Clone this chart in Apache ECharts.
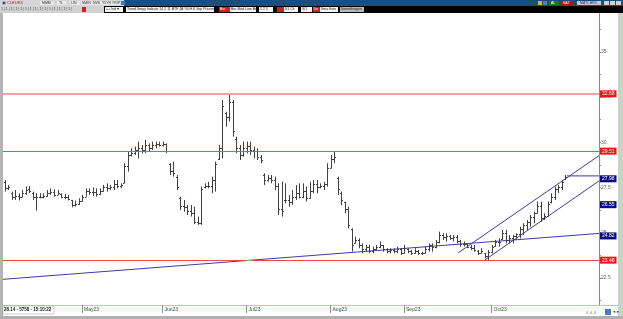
<!DOCTYPE html>
<html><head><meta charset="utf-8">
<script src="https://cdn.jsdelivr.net/npm/echarts@6/dist/echarts.min.js"></script>
<style>html,body{margin:0;padding:0;background:#fff;}#c{width:623px;height:319px;}</style>
</head><body><div id="c"></div>
<script>
// ---- data (daily OHLC bars, index 0..160) ----
const highs = [27.91,27.64,27.27,27.36,27.18,27.36,27.55,27.58,27.27,27.18,27.18,27.18,27.36,27.45,27.40,27.36,27.18,27.14,27.09,26.81,
26.77,26.90,27.09,27.45,27.45,27.51,27.45,27.45,27.64,27.73,27.64,27.91,27.91,27.73,28.84,29.48,29.67,29.76,30.04,29.85,
30.13,29.94,30.04,30.04,30.04,30.04,29.94,28.84,28.93,28.19,26.99,26.81,26.53,26.53,26.44,25.89,27.55,27.73,27.82,28.10,
28.93,29.85,32.34,31.69,32.62,32.34,30.31,29.85,30.04,30.04,30.04,29.76,29.67,29.30,28.28,28.19,28.19,28.10,27.73,27.82,
27.73,27.09,27.36,27.64,27.73,27.73,27.55,27.82,27.91,27.91,27.73,27.82,28.84,29.30,29.48,28.10,27.27,26.72,26.44,25.24,
24.78,24.69,24.41,24.32,24.32,24.23,24.32,24.51,24.32,24.14,24.14,24.14,24.23,24.14,24.32,24.14,24.04,24.14,24.04,23.95,
24.23,24.41,24.41,24.60,25.06,24.97,24.97,24.87,24.87,24.87,24.60,24.51,24.41,24.32,24.32,24.04,24.14,23.86,24.04,24.32,
24.60,24.69,25.15,25.15,24.87,24.87,24.97,25.33,25.52,25.70,25.98,26.16,26.72,26.72,26.07,26.72,27.18,27.55,27.64,27.91,
28.19];
const lows = [27.27,27.36,26.81,26.81,26.78,26.96,27.09,27.18,26.81,26.22,26.90,26.90,26.99,27.09,26.99,27.09,26.90,26.85,26.78,26.40,
26.44,26.53,26.72,26.99,27.09,27.03,26.99,27.09,27.27,27.27,27.36,27.36,27.45,27.45,27.73,28.38,29.21,29.30,29.11,29.39,
29.39,29.48,29.57,29.67,29.76,29.76,29.39,28.19,28.10,27.36,26.26,26.16,25.98,25.89,25.48,25.43,25.43,27.45,27.45,27.18,
27.27,29.02,29.11,30.86,31.14,30.31,29.39,29.02,29.21,29.39,29.30,29.11,29.02,28.84,27.64,27.82,27.73,27.36,25.98,25.89,
26.62,26.44,26.53,26.81,26.90,26.90,26.72,26.90,27.18,27.18,27.45,27.36,27.55,28.56,28.84,27.09,26.53,26.07,25.24,23.95,
24.41,24.14,23.86,23.95,23.86,23.86,24.04,24.14,23.95,23.86,23.86,23.86,23.86,23.77,23.86,23.86,23.77,23.86,23.77,23.77,
23.86,23.95,23.95,24.14,24.41,24.60,24.51,24.60,24.51,24.41,24.23,24.23,24.14,24.04,23.95,23.77,23.86,23.58,23.49,23.86,
24.23,24.23,24.60,24.41,24.41,24.41,24.60,24.69,24.87,25.15,25.33,25.52,26.07,25.61,25.70,25.89,26.62,26.81,27.18,27.36,
27.91];
const opens = [27.80,27.45,27.20,26.95,27.05,27.00,27.20,27.40,27.20,26.95,27.00,27.00,27.05,27.20,27.25,27.10,27.15,27.00,26.95,26.80,
26.55,26.60,26.75,27.00,27.30,27.25,27.25,27.15,27.30,27.50,27.45,27.50,27.70,27.60,27.75,28.70,29.30,29.40,29.55,29.70,
29.60,29.85,29.70,29.85,29.90,29.85,29.90,28.80,28.40,28.10,26.90,26.50,26.40,26.20,26.10,25.60,25.55,27.50,27.60,27.60,
27.90,29.10,29.70,31.60,31.40,32.20,30.20,29.70,29.30,29.70,29.80,29.60,29.50,29.20,28.20,27.90,28.00,27.90,27.60,26.30,
26.80,26.80,26.70,27.00,27.20,27.00,27.30,26.90,27.30,27.70,27.50,27.60,27.70,28.60,29.10,28.00,27.20,26.70,26.30,25.20,
24.45,24.60,24.30,24.10,24.20,24.00,24.10,24.20,24.30,24.10,24.00,24.05,24.00,24.10,23.90,24.10,24.00,23.90,24.00,23.90,
23.90,24.10,24.30,24.20,24.50,24.85,24.75,24.80,24.70,24.75,24.55,24.35,24.40,24.20,24.15,24.00,23.90,23.85,23.70,23.95,
24.25,24.50,24.65,25.00,24.60,24.70,24.80,24.90,25.20,25.40,25.60,25.85,26.10,26.50,25.80,25.95,26.70,27.00,27.40,27.50,
27.95];
const closes = [27.45,27.50,26.95,27.05,26.95,27.20,27.35,27.30,26.95,26.95,27.00,27.05,27.20,27.25,27.10,27.20,27.00,26.95,26.85,26.55,
26.60,26.75,26.95,27.30,27.25,27.25,27.15,27.30,27.50,27.45,27.50,27.70,27.60,27.65,28.70,29.30,29.40,29.55,29.70,29.60,
29.85,29.70,29.85,29.90,29.85,29.90,29.50,28.40,28.30,27.50,26.50,26.40,26.20,26.10,25.60,25.55,27.40,27.60,27.60,27.90,
28.80,29.70,32.00,31.40,32.20,30.60,29.70,29.30,29.70,29.80,29.60,29.50,29.20,29.00,27.90,28.00,27.90,27.60,26.30,26.20,
26.80,26.70,27.00,27.20,27.00,27.30,26.90,27.30,27.70,27.50,27.60,27.70,28.60,29.10,29.20,27.40,26.80,26.30,25.40,24.30,
24.60,24.30,24.10,24.20,24.00,24.10,24.20,24.30,24.10,24.00,24.05,24.00,24.10,23.90,24.15,24.00,23.90,24.00,23.90,23.85,
24.10,24.30,24.20,24.50,24.85,24.75,24.80,24.70,24.75,24.55,24.35,24.40,24.20,24.15,24.05,23.90,24.00,23.70,23.95,24.20,
24.50,24.50,25.00,24.60,24.70,24.80,24.90,25.20,25.40,25.60,25.85,26.10,26.50,25.80,25.90,26.60,27.00,27.40,27.50,27.80,
28.10];

const monthTickIdx = [22, 45, 69, 93, 114, 139];
const monthLabels = ['May23', 'Jun23', 'Jul23', 'Aug23', 'Sep23', 'Oct23'];
const yLabelValues = [22.5, 25, 27.5, 30, 32.5, 35];
const yTickValues = [21.25, 22.5, 23.75, 25, 26.25, 27.5, 28.75, 30, 31.25, 32.5, 33.75, 35, 36.25];

// horizontal levels
const levelValues = [32.68, 29.51, 23.47];
// drawn lines (bar index, price)
const trendLine = [[-0.57, 22.42], [169.7, 24.96]];
const channelUpper = [[129.5, 23.89], [169.7, 29.26]];
const channelLower = [[137.1, 23.49], [169.7, 27.86]];
const lastPriceLine = [[160.5, 28.14], [169.7, 28.14]];
const crossMark = [[69.1, 23.46], [70.9, 23.49]];
// right-axis value tags
const tagValues = [32.68, 29.51, 27.98, 26.55, 24.82, 23.48];
const tagKinds = ['level', 'level', 'line', 'line', 'line', 'level'];

const ohlc = highs.map((h, i) => [i, opens[i], h, lows[i], closes[i]]);

const FONT = 'Liberation Sans';
const chart = echarts.init(document.getElementById('c'), null, {renderer: 'canvas'});

function renderOHLC(params, api) {
  const x = api.value(0);
  const pO = api.coord([x, api.value(1)]);
  const pH = api.coord([x, api.value(2)]);
  const pL = api.coord([x, api.value(3)]);
  const pC = api.coord([x, api.value(4)]);
  const cx = Math.round(pH[0]) + 0.5;
  const st = {stroke: '#404040', lineWidth: 1};
  const oy = Math.round(pO[1]) + 0.5, cy = Math.round(pC[1]) + 0.5;
  return {type: 'group', children: [
    {type: 'line', shape: {x1: cx, y1: pH[1], x2: cx, y2: pL[1]}, style: st},
    {type: 'line', shape: {x1: cx - 1.5, y1: oy, x2: cx, y2: oy}, style: st},
    {type: 'line', shape: {x1: cx, y1: cy, x2: cx + 1.5, y2: cy}, style: st}
  ]};
}

const levelStyles = [
  {color: '#f5a2a2', width: 2, type: 'solid', opacity: 1},
  {color: '#e45252', width: 1, type: 'solid', opacity: 1},
  {color: '#e84848', width: 1, type: 'solid', opacity: 1}
];
const levelData = levelValues.map((v, i) => ({yAxis: v, lineStyle: levelStyles[i], label: {show: false}}));

const tagData = tagValues.map((v, i) => ({
  yAxis: v,
  label: {
    show: true, position: 'end', distance: 1,
    formatter: v.toFixed(2),
    backgroundColor: tagKinds[i] === 'level' ? '#f01414' : '#0a0a80',
    color: '#ffffff', fontSize: 5, fontFamily: FONT,
    padding: [1, 2, 1, 2], lineHeight: 5
  }
}));

const blue = '#3c3ca6';
function lineSeries(data, color, z) {
  return {type: 'line', data: data, symbol: 'none', silent: true, animation: false, z: z || 3,
    lineStyle: {color: color || blue, width: 1}};
}

// toolbar / frame decoration
const G = [];
function rect(x, y, w, h, fill, stroke) { G.push({type: 'rect', shape: {x, y, width: w, height: h}, style: {fill, stroke: stroke || null, lineWidth: stroke ? 0.5 : 0}, silent: true, z: 100}); }
function txt(x, y, t, color, size, weight) { G.push({type: 'text', x, y, style: {text: t, fill: color || '#222', fontSize: size || 4, fontFamily: FONT, fontWeight: weight || 'normal', verticalAlign: 'middle'}, silent: true, z: 101}); }

rect(0, 0, 623, 6, '#1c4e7c');
rect(0, 0, 124, 6, '#d6d6d6');
txt(2, 3, '▣', '#2040a0', 4);
txt(7, 3, 'CLEUR4', '#b01818', 4);
rect(40, 1, 14, 4, '#e8e8e8'); txt(42, 3, 'MMM', '#333', 3.5);
rect(57, 1, 9, 4, '#e8e8e8'); txt(59, 3, 'TL', '#333', 3.5);
rect(70, 1, 10, 4, '#e8e8e8'); txt(71, 3, 'LIN', '#333', 3.5);
rect(81, 1, 11, 4, '#e8e8e8'); txt(82, 3, 'SMIN', '#333', 3.5);
rect(92, 1, 9, 4, '#e8e8e8'); txt(93, 3, 'NVS', '#333', 3.5);
rect(101, 1, 19, 4, '#e8e8e8'); txt(102, 3, 'Y5YR TRIP', '#333', 3.5);
rect(121, 1, 4, 4, '#3080d0');
rect(538, 1, 4, 4, '#e0b030'); rect(543, 1, 4, 4, '#5080c0');
rect(549, 1, 10, 4, '#1e7a1e'); txt(551, 3, 'AL', '#fff', 3.5);
rect(561, 1, 12, 4, '#b01818'); txt(563, 3, 'SAT', '#fff', 3.5);
rect(577, 1, 24, 4, '#c0c8dc'); txt(580, 3, 'MATCHES', '#203080', 3.5);
rect(604, 1, 5, 4, '#d0d0d0'); rect(610, 1, 5, 4, '#d0d0d0'); rect(616, 1, 5, 4, '#d0d0d0');

rect(0, 6, 623, 7, '#000000');
rect(0, 6, 104, 7, '#d2d2d2');
txt(1, 9.5, '1 | 1 | 1 | 1 | 1 | 1 | 1 | 1 | 1 | 1 | 1 | 1 | 1 | 1 | 1 |', '#444', 3.5);
rect(82, 7, 4, 5, '#d02020');
rect(105, 7, 18, 5, '#f4f4f4'); txt(106, 9.5, '++ Ind ▾', '#222', 3.5);
rect(126, 7, 88, 5, '#f4f4f4'); txt(127, 9.5, 'Trend Smpy Indicatr 14 2 11 BTF JA %LH K Ssp Pricnet', '#222', 3.5);
rect(219, 7, 11, 5, '#d02020'); txt(220, 9.5, 'Bar', '#fff', 3.5);
rect(230, 7, 26, 5, '#f4f4f4'); txt(231, 9.5, 'Bar Mod Line Bal', '#222', 3.5);
rect(259, 7, 14, 5, '#f4f4f4'); txt(260, 9.5, '1 2 3', '#222', 3.5);
rect(277, 7, 7, 5, '#d02020');
rect(284, 7, 14, 5, '#f4f4f4'); txt(285, 9.5, 'S1 Clr', '#222', 3.5);
rect(301, 7, 11, 5, '#f4f4f4'); txt(302, 9.5, 'S/1', '#222', 3.5);
rect(313, 7, 7, 5, '#d02020'); txt(313.5, 9.5, 'Lin', '#fff', 3.5);
rect(320, 7, 18, 5, '#f4f4f4'); txt(321, 9.5, 'Sma Evtn', '#222', 3.5);
rect(340, 7, 24, 5, '#b8b8b8'); txt(341, 9.5, 'Somethingon', '#222', 3.5);

rect(0, 13, 3, 303, '#b4b4b4');
rect(618, 13, 5, 303, '#c6d6c6');
G.push({type: 'line', shape: {x1: 599, y1: 305.5, x2: 618, y2: 305.5}, style: {stroke: '#a8d8a0', lineWidth: 1}, silent: true, z: 100});
rect(0, 316, 623, 3, '#b0b0b0');
rect(3, 306, 51, 8, '#ffffff', '#999999');
txt(4, 310.2, '28.14 - 5758 - 15:10:22', '#111', 4.5, 'bold');
txt(586, 313, 'Δ.Δ.Δ', '#999', 4);
rect(605, 309, 6, 6, '#5078c8'); txt(612, 312, '◄►', '#2050a0', 4);

const option = {
  animation: false,
  backgroundColor: '#ffffff',
  grid: {left: 3, right: 24, top: 13, bottom: 14, containLabel: false},
  xAxis: {
    type: 'value', min: -0.57, max: 169.7,
    splitLine: {show: false},
    axisLine: {show: true, onZero: false, lineStyle: {color: '#a8d8a0', width: 1}},
    axisTick: {show: true, customValues: monthTickIdx, length: 8, lineStyle: {color: '#909090'}},
    axisLabel: {
      show: true, customValues: monthTickIdx, align: 'left', margin: 2, padding: [0, 0, 0, 2],
      fontSize: 5, color: '#444', fontFamily: FONT,
      formatter: v => monthLabels[monthTickIdx.indexOf(v)] || ''
    }
  },
  yAxis: {
    type: 'value', position: 'right', min: 21.0, max: 37.15,
    splitLine: {show: false},
    axisLine: {show: true, onZero: false, lineStyle: {color: '#8a8a8a', width: 1}},
    axisTick: {show: true, customValues: yTickValues, length: 2, lineStyle: {color: '#8a8a8a'}},
    axisLabel: {
      show: true, customValues: yLabelValues, margin: 2, fontSize: 5, color: '#666', fontFamily: FONT,
      formatter: v => (Math.abs(v - Math.round(v)) < 1e-9 ? v + '.' : String(v))
    }
  },
  graphic: G,
  series: [
    {type: 'custom', renderItem: renderOHLC, data: ohlc, encode: {x: 0, y: [1, 2, 3, 4]}, z: 4, silent: true, clip: true},
    Object.assign(lineSeries(trendLine, blue, 3), {
      markLine: {symbol: ['none', 'none'], silent: true, animation: false, data: levelData}
    }),
    lineSeries(channelUpper, blue, 3),
    lineSeries(channelLower, blue, 3),
    lineSeries(lastPriceLine, blue, 3),
    lineSeries(crossMark, '#3fe0a8', 5),
    {
      type: 'line', data: [], z: 20, silent: true, clip: false,
      markLine: {
        symbol: ['none', 'none'], silent: true, animation: false,
        lineStyle: {color: 'rgba(0,0,0,0)', width: 1, type: 'solid'},
        data: tagData
      }
    }
  ]
};
chart.setOption(option);
</script>
</body></html>
